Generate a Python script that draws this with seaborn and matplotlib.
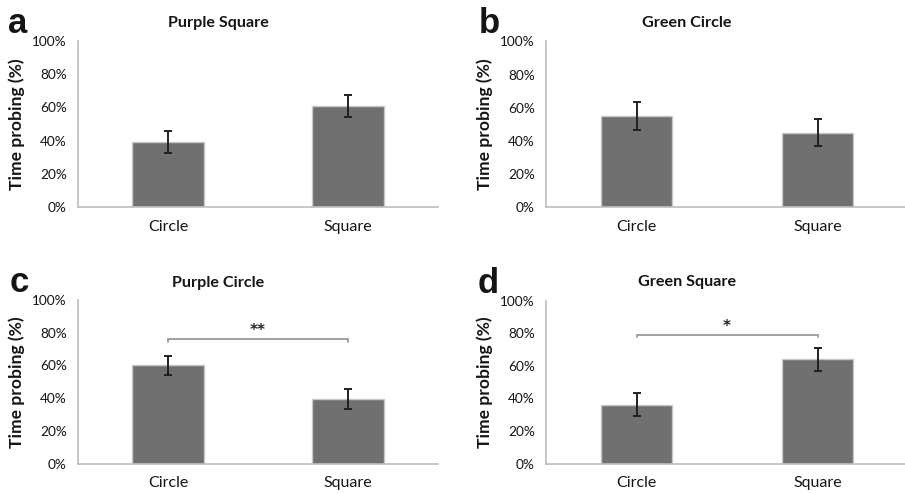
import matplotlib
matplotlib.use("Agg")
import matplotlib.pyplot as plt
import seaborn as sns
import pandas as pd

# Mean time spent probing each shape (%), with standard error
categories = ["Circle", "Square"]

titles = ["Purple Square", "Green Circle", "Purple Circle", "Green Square"]
letters = ["a", "b", "c", "d"]

purple_square = [39, 61]
purple_square_err = [6.5, 6.6]

green_circle = [55, 45]
green_circle_err = [8.5, 8.4]

purple_circle = [60, 39.5]
purple_circle_err = [5.8, 6.0]

green_square = [36, 64]
green_square_err = [7.0, 7.0]

# significance brackets: (height in %, label); None where no test is shown
brackets = [None, None, (76, "**"), (79, "*")]

y_ticks = [0, 20, 40, 60, 80, 100]
y_tick_labels = ["0%", "20%", "40%", "60%", "80%", "100%"]

panel_values = [purple_square, green_circle, purple_circle, green_square]
panel_errors = [purple_square_err, green_circle_err, purple_circle_err, green_square_err]

sns.set_style("white")
plt.rcParams["font.family"] = ["Lato", "DejaVu Sans"]

W, H = 905, 494
fig = plt.figure(figsize=(W / 100, H / 100), dpi=100)

# axes boxes in pixels: left, right, top(100%), bottom(0%)
boxes = [
    (78, 438, 41, 207),
    (546, 908, 41.5, 207),
    (78, 438, 300, 463.5),
    (546, 908, 300.5, 463.5),
]
letter_pos = [(18, 33), (489, 33), (19, 292), (488, 293)]
title_y = [23, 23, 283, 282]

spine_col = "#bdbdbd"
bar_col = "#707070"
text_col = "#151515"

for i, (l, r, t, b) in enumerate(boxes):
    ax = fig.add_axes([l / W, (H - b) / H, (r - l) / W, (b - t) / H])
    df = pd.DataFrame({"shape": categories, "time": panel_values[i]})
    sns.barplot(data=df, x="shape", y="time", ax=ax, color=bar_col,
                width=0.395, errorbar=None, edgecolor="#c8c8c8", linewidth=1,
                saturation=1)
    ax.errorbar(range(len(categories)), panel_values[i], yerr=panel_errors[i],
                fmt="none", ecolor="#202020", elinewidth=1.4, capsize=3.2,
                capthick=1.4, zorder=5)

    ax.set_xlim(-0.5, 1.5)
    ax.set_ylim(0, 100)
    ax.set_yticks(y_ticks)
    ax.set_yticklabels(y_tick_labels)
    ax.set_xticks([-0.5, 0.5, 1.5])
    ax.set_xticklabels([])
    ax.set_xticks([0, 1], minor=True)
    ax.set_xticklabels(categories, minor=True)
    ax.tick_params(axis="x", which="minor", length=0, pad=9, labelsize=11.5,
                   labelcolor=text_col)
    ax.tick_params(axis="x", which="major", length=4, width=1, color=spine_col,
                   direction="out")
    ax.tick_params(axis="y", length=4, width=1, color=spine_col, direction="out",
                   pad=4, labelsize=9.8, labelcolor=text_col)
    ax.set_xlabel("")
    ax.set_ylabel("Time probing (%)", fontsize=12.6, fontweight="bold",
                  labelpad=5, color=text_col)

    for side in ("top", "right"):
        ax.spines[side].set_visible(False)
    for side in ("left", "bottom"):
        ax.spines[side].set_color(spine_col)
        ax.spines[side].set_linewidth(1.2)

    ax.text(0.39, (b - title_y[i]) / (b - t), titles[i], transform=ax.transAxes,
            ha="center", va="center", fontsize=11.6, fontweight="bold",
            color=text_col)

    fig.text(letter_pos[i][0] / W, (H - letter_pos[i][1]) / H, letters[i],
             ha="center", va="baseline", fontsize=25, fontweight="bold",
             family=["Liberation Sans", "DejaVu Sans"], color=text_col)

    if brackets[i] is not None:
        yb, lab = brackets[i]
        ax.plot([0, 0, 1, 1], [yb - 1.5, yb, yb, yb - 1.5], color="#9a9a9a",
                lw=1.3, solid_joinstyle="miter")
        ax.text(0.5, yb + 0.5, lab, ha="center", va="bottom", fontsize=11,
                fontweight="bold", family=["DejaVu Sans"], color="#222222")

fig.savefig("out.png", dpi=100)
